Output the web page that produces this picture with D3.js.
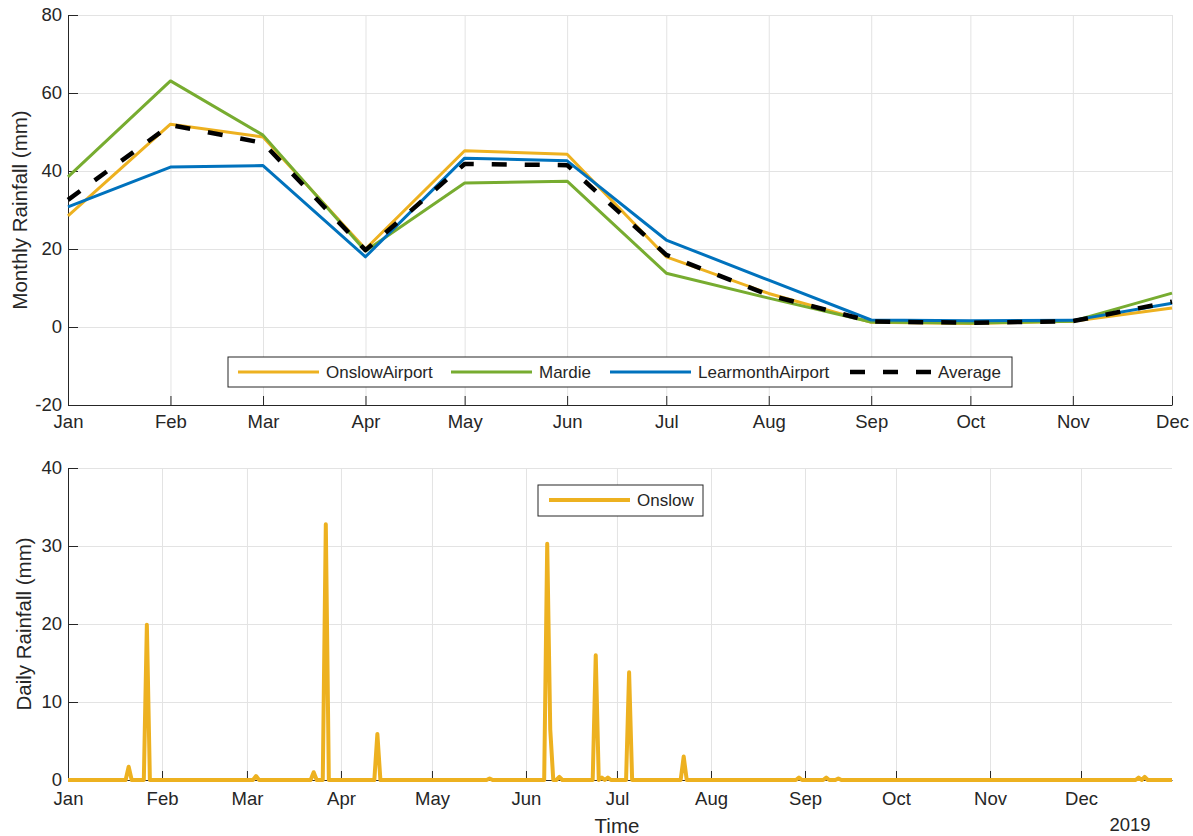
<!DOCTYPE html>
<html lang="en">
<head>
    <meta charset="UTF-8">
    <title>Monthly and daily rainfall</title>
    <script src="https://d3js.org/d3.v7.min.js"></script>
    <style>
        body { margin: 0; background: #fff; }
        svg text { font-family: "Liberation Sans", Arial, sans-serif; fill: #262626; }
        .axis text { font-size: 18.5px; }
        .axis path, .axis line { stroke: #262626; }
        .grid line { stroke: #e3e3e3; }
        .grid path { display: none; }
        .legend text { font-size: 17px; }
        .title { font-size: 20.5px; }
    </style>
</head>
<body>
    <div id="chart"></div>

    <script>
        const year = 2019;
        const months = ["Jan", "Feb", "Mar", "Apr", "May", "Jun", "Jul", "Aug", "Sep", "Oct", "Nov", "Dec"];

        // monthly rainfall (mm)
        const onslowAirport    = [28.5, 52.0, 48.7, 20.0, 45.2, 44.3, 18.0, 8.6, 1.2, 0.9, 1.5, 4.9];
        const mardie           = [38.5, 63.1, 49.2, 19.5, 36.9, 37.4, 13.8, 7.4, 1.3, 1.0, 1.5, 8.7];
        const learmonthAirport = [30.8, 41.0, 41.4, 18.0, 43.3, 42.6, 22.3, 12.0, 1.8, 1.6, 1.7, 6.1];
        const average          = [32.6, 51.8, 47.2, 19.7, 41.8, 41.5, 18.5, 8.2, 1.4, 1.1, 1.5, 6.5];
        const monthlyTicks = [-20, 0, 20, 40, 60, 80];

        // daily rainfall at Onslow, days with rain (all other days are 0)
        const rainDays = ["2019-01-21", "2019-01-27", "2019-03-04", "2019-03-23", "2019-03-27", "2019-04-13",
                          "2019-05-20", "2019-06-08", "2019-06-09", "2019-06-12", "2019-06-24", "2019-06-26",
                          "2019-06-28", "2019-07-05", "2019-07-23", "2019-08-30", "2019-09-08", "2019-09-12",
                          "2019-12-20", "2019-12-22"];
        const rainMm   = [1.7, 19.9, 0.5, 1.0, 32.8, 5.9,
                          0.2, 30.3, 6.5, 0.4, 16.0, 0.3,
                          0.3, 13.8, 3.0, 0.3, 0.3, 0.2,
                          0.3, 0.4];
        const dailyTicks = [0, 10, 20, 30, 40];

        const series = [
            { name: "OnslowAirport", values: onslowAirport, color: "#EDB120", width: 3, dash: null, lx: 238 },
            { name: "Mardie", values: mardie, color: "#77AC30", width: 3, dash: null, lx: 451 },
            { name: "LearmonthAirport", values: learmonthAirport, color: "#0072BD", width: 3, dash: null, lx: 610 },
            { name: "Average", values: average, color: "#000000", width: 4.5, dash: "15,18", lx: 850 }
        ];

        const svg = d3.select("#chart").append("svg")
            .attr("width", 1193)
            .attr("height", 836);

        const left = 68, right = 1172;

        // ---------- top: monthly ----------
        const monthDates = months.map((m, i) => new Date(year, i, 1));
        const x1 = d3.scaleTime().domain([monthDates[0], monthDates[11]]).range([left, right]);
        const y1 = d3.scaleLinear().domain([-20, 80]).range([405, 15]);

        const topPlot = svg.append("g");

        topPlot.append("g").attr("class", "grid")
            .attr("transform", "translate(0,405)")
            .call(d3.axisBottom(x1).tickValues(monthDates).tickSize(-390).tickFormat(""));
        topPlot.append("g").attr("class", "grid")
            .attr("transform", "translate(" + left + ",0)")
            .call(d3.axisLeft(y1).tickValues(monthlyTicks).tickSize(-(right - left)).tickFormat(""));

        topPlot.append("g").attr("class", "axis")
            .attr("transform", "translate(0,405)")
            .call(d3.axisBottom(x1).tickValues(monthDates).tickFormat((d, i) => months[i])
                .tickSizeInner(-9).tickSizeOuter(0).tickPadding(10));
        topPlot.append("g").attr("class", "axis")
            .attr("transform", "translate(" + left + ",0)")
            .call(d3.axisLeft(y1).tickValues(monthlyTicks).tickFormat(d => String(d))
                .tickSizeInner(-10).tickSizeOuter(0).tickPadding(6));

        const line1 = d3.line()
            .x((d, i) => x1(monthDates[i]))
            .y(d => y1(d));

        series.forEach(s => {
            topPlot.append("path")
                .attr("d", line1(s.values))
                .attr("fill", "none")
                .attr("stroke", s.color)
                .attr("stroke-width", s.width)
                .attr("stroke-dasharray", s.dash)
                .attr("stroke-linejoin", "round");
        });

        topPlot.append("text").attr("class", "title")
            .attr("transform", "translate(27,210) rotate(-90)")
            .attr("text-anchor", "middle")
            .text("Monthly Rainfall (mm)");

        // legend
        const leg1 = topPlot.append("g").attr("class", "legend");
        leg1.append("rect")
            .attr("x", 228).attr("y", 357).attr("width", 784).attr("height", 30)
            .attr("fill", "#fff").attr("stroke", "#262626");
        series.forEach(s => {
            leg1.append("line")
                .attr("x1", s.lx).attr("x2", s.lx + 81)
                .attr("y1", 372).attr("y2", 372)
                .attr("stroke", s.color)
                .attr("stroke-width", s.width)
                .attr("stroke-dasharray", s.dash);
            leg1.append("text")
                .attr("x", s.lx + 88).attr("y", 378)
                .text(s.name);
        });

        // ---------- bottom: daily ----------
        const rainByDay = new Map(rainDays.map((d, i) => [d, rainMm[i]]));
        const days = d3.timeDays(new Date(year, 0, 1), new Date(year + 1, 0, 1));
        const fmt = d3.timeFormat("%Y-%m-%d");
        const daily = days.map(d => ({ date: d, mm: rainByDay.get(fmt(d)) || 0 }));

        const x2 = d3.scaleTime().domain([new Date(year, 0, 1), new Date(year, 11, 31)]).range([left, right]);
        const y2 = d3.scaleLinear().domain([0, 40]).range([780, 468]);
        const monthStarts = d3.timeMonths(new Date(year, 0, 1), new Date(year + 1, 0, 1));

        const bottomPlot = svg.append("g");

        bottomPlot.append("g").attr("class", "grid")
            .attr("transform", "translate(0,780)")
            .call(d3.axisBottom(x2).tickValues(monthStarts).tickSize(-312).tickFormat(""));
        bottomPlot.append("g").attr("class", "grid")
            .attr("transform", "translate(" + left + ",0)")
            .call(d3.axisLeft(y2).tickValues(dailyTicks).tickSize(-(right - left)).tickFormat(""));

        bottomPlot.append("g").attr("class", "axis")
            .attr("transform", "translate(0,780)")
            .call(d3.axisBottom(x2).tickValues(monthStarts).tickFormat(d3.timeFormat("%b"))
                .tickSizeInner(-9).tickSizeOuter(0).tickPadding(12));
        bottomPlot.append("g").attr("class", "axis")
            .attr("transform", "translate(" + left + ",0)")
            .call(d3.axisLeft(y2).tickValues(dailyTicks).tickFormat(d => String(d))
                .tickSizeInner(-10).tickSizeOuter(0).tickPadding(6));

        const line2 = d3.line()
            .x(d => x2(d.date))
            .y(d => y2(d.mm));

        bottomPlot.append("path")
            .attr("d", line2(daily))
            .attr("fill", "none")
            .attr("stroke", "#EDB120")
            .attr("stroke-width", 4)
            .attr("stroke-linejoin", "round");

        bottomPlot.append("text").attr("class", "title")
            .attr("transform", "translate(31,624) rotate(-90)")
            .attr("text-anchor", "middle")
            .text("Daily Rainfall (mm)");

        bottomPlot.append("text").attr("class", "title")
            .attr("x", 617).attr("y", 833)
            .attr("text-anchor", "middle")
            .text("Time");

        bottomPlot.append("text")
            .attr("x", 1130).attr("y", 831)
            .attr("text-anchor", "middle")
            .attr("font-size", "18.5px")
            .text(year);

        const leg2 = bottomPlot.append("g").attr("class", "legend");
        leg2.append("rect")
            .attr("x", 538).attr("y", 485).attr("width", 165).attr("height", 31)
            .attr("fill", "#fff").attr("stroke", "#262626");
        leg2.append("line")
            .attr("x1", 549).attr("x2", 630)
            .attr("y1", 500).attr("y2", 500)
            .attr("stroke", "#EDB120").attr("stroke-width", 4);
        leg2.append("text")
            .attr("x", 637).attr("y", 506)
            .text("Onslow");
    </script>
</body>
</html>
